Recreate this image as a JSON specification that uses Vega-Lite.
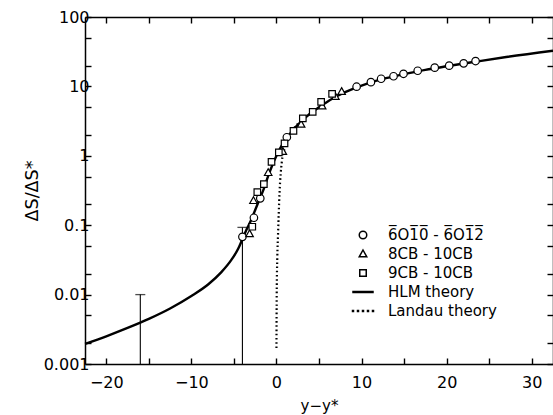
{
  "$schema": "https://vega.github.io/schema/vega-lite/v6.json",
  "width": 468,
  "height": 347,
  "autosize": {"type": "none"},
  "padding": {"left": 85, "top": 17, "right": 0, "bottom": 51},
  "background": "white",
  "config": {
    "view": {"stroke": null},
    "font": "DejaVu Sans",
    "axis": {
      "domainColor": "black", "domainWidth": 1.5,
      "tickColor": "black", "tickWidth": 1.4, "tickSize": -6,
      "labelColor": "black", "titleColor": "black",
      "labelFont": "DejaVu Sans", "titleFont": "DejaVu Sans",
      "labelFontSize": 16, "titleFontSize": 16, "titleFontWeight": "normal",
      "grid": false
    }
  },
  "datasets": {
    "hlm": [
      {"x": -22.5, "y": 0.00195},
      {"x": -20, "y": 0.00251},
      {"x": -17.5, "y": 0.00331},
      {"x": -15, "y": 0.00447},
      {"x": -12.5, "y": 0.00631},
      {"x": -10, "y": 0.00955},
      {"x": -8, "y": 0.0141},
      {"x": -6.5, "y": 0.0209},
      {"x": -5.3, "y": 0.0316},
      {"x": -4.5, "y": 0.0457},
      {"x": -4, "y": 0.0631},
      {"x": -3.5, "y": 0.0871},
      {"x": -3, "y": 0.117},
      {"x": -2.5, "y": 0.166},
      {"x": -2, "y": 0.234},
      {"x": -1.5, "y": 0.331},
      {"x": -1, "y": 0.501},
      {"x": -0.5, "y": 0.724},
      {"x": 0, "y": 1.0},
      {"x": 0.5, "y": 1.32},
      {"x": 1, "y": 1.66},
      {"x": 2, "y": 2.4},
      {"x": 3, "y": 3.2},
      {"x": 4, "y": 4.1},
      {"x": 5, "y": 5.0},
      {"x": 6.5, "y": 6.6},
      {"x": 8, "y": 8.2},
      {"x": 10, "y": 10.3},
      {"x": 12.5, "y": 12.8},
      {"x": 15, "y": 15.0},
      {"x": 17.5, "y": 17.3},
      {"x": 20, "y": 19.5},
      {"x": 23.5, "y": 22.8},
      {"x": 27, "y": 26.5},
      {"x": 32.5, "y": 32.7}
    ],
    "landau": [
      {"x": 0.0, "y": 0.0017},
      {"x": 0.03, "y": 0.01},
      {"x": 0.1, "y": 0.035},
      {"x": 0.18, "y": 0.07},
      {"x": 0.36, "y": 0.29},
      {"x": 0.63, "y": 0.82},
      {"x": 0.9, "y": 1.2},
      {"x": 1.3, "y": 1.7},
      {"x": 2, "y": 2.45},
      {"x": 3, "y": 3.2}
    ],
    "errs": [
      {"x": -16, "lo": 0.001, "hi": 0.01},
      {"x": -4, "lo": 0.001, "hi": 0.093}
    ],
    "pts": [
      {"x": -4.0, "y": 0.068, "s": "6̅O1̅0̅ - 6̅O1̅2̅"},
      {"x": -2.65, "y": 0.128, "s": "6̅O1̅0̅ - 6̅O1̅2̅"},
      {"x": -1.9, "y": 0.244, "s": "6̅O1̅0̅ - 6̅O1̅2̅"},
      {"x": 1.22, "y": 1.85, "s": "6̅O1̅0̅ - 6̅O1̅2̅"},
      {"x": 9.42, "y": 9.9, "s": "6̅O1̅0̅ - 6̅O1̅2̅"},
      {"x": 11.1, "y": 11.5, "s": "6̅O1̅0̅ - 6̅O1̅2̅"},
      {"x": 12.3, "y": 12.9, "s": "6̅O1̅0̅ - 6̅O1̅2̅"},
      {"x": 13.76, "y": 14.0, "s": "6̅O1̅0̅ - 6̅O1̅2̅"},
      {"x": 14.93, "y": 15.2, "s": "6̅O1̅0̅ - 6̅O1̅2̅"},
      {"x": 16.6, "y": 16.8, "s": "6̅O1̅0̅ - 6̅O1̅2̅"},
      {"x": 18.6, "y": 18.6, "s": "6̅O1̅0̅ - 6̅O1̅2̅"},
      {"x": 20.3, "y": 19.9, "s": "6̅O1̅0̅ - 6̅O1̅2̅"},
      {"x": 22.0, "y": 21.5, "s": "6̅O1̅0̅ - 6̅O1̅2̅"},
      {"x": 23.4, "y": 23.2, "s": "6̅O1̅0̅ - 6̅O1̅2̅"},
      {"x": -3.16, "y": 0.075, "s": "8CB  - 10CB"},
      {"x": -2.7, "y": 0.225, "s": "8CB  - 10CB"},
      {"x": -0.97, "y": 0.57, "s": "8CB  - 10CB"},
      {"x": 0.75, "y": 1.15, "s": "8CB  - 10CB"},
      {"x": 2.9, "y": 2.84, "s": "8CB  - 10CB"},
      {"x": 5.37, "y": 5.2, "s": "8CB  - 10CB"},
      {"x": 6.93, "y": 7.1, "s": "8CB  - 10CB"},
      {"x": 7.66, "y": 8.4, "s": "8CB  - 10CB"},
      {"x": -2.84, "y": 0.095, "s": "9CB  - 10CB"},
      {"x": -2.25, "y": 0.30, "s": "9CB  - 10CB"},
      {"x": -1.48, "y": 0.39, "s": "9CB  - 10CB"},
      {"x": -0.58, "y": 0.82, "s": "9CB  - 10CB"},
      {"x": 0.28, "y": 1.12, "s": "9CB  - 10CB"},
      {"x": 0.95, "y": 1.51, "s": "9CB  - 10CB"},
      {"x": 2.0, "y": 2.28, "s": "9CB  - 10CB"},
      {"x": 3.1, "y": 3.47, "s": "9CB  - 10CB"},
      {"x": 4.26, "y": 4.3, "s": "9CB  - 10CB"},
      {"x": 5.25, "y": 6.0, "s": "9CB  - 10CB"},
      {"x": 6.54, "y": 7.8, "s": "9CB  - 10CB"}
    ]
  },
  "resolve": {"axis": {"x": "independent", "y": "independent"}},
  "layer": [
    {
      "data": {"name": "hlm"},
      "mark": {"type": "line", "color": "black", "strokeWidth": 2.4, "interpolate": "monotone"},
      "encoding": {
        "x": {"field": "x", "type": "quantitative",
          "scale": {"domain": [-22.5, 32.5], "nice": false, "zero": false},
          "axis": {"orient": "bottom", "title": "y−y*", "titleFontSize": 15, "values": [-20, -15, -10, -5, 0, 5, 10, 15, 20, 25, 30],
            "labelExpr": "datum.value % 10 === 0 ? datum.label : ''", "labelPadding": 16, "titlePadding": 8}},
        "y": {"field": "y", "type": "quantitative",
          "scale": {"type": "log", "domain": [0.001, 100], "nice": false},
          "axis": {"orient": "left", "title": "ΔS/ΔS*", "format": "~g", "titleFontSize": 17.5,
            "values": [0.001, 0.002, 0.005, 0.01, 0.02, 0.05, 0.1, 0.2, 0.5, 1, 2, 5, 10, 20, 50, 100],
            "labelExpr": "abs(log(datum.value)/LN10 - round(log(datum.value)/LN10)) < 0.001 ? datum.label : ''",
            "labelPadding": 2, "titlePadding": 2}}
      }
    },
    {
      "data": {"name": "landau"},
      "mark": {"type": "line", "color": "black", "strokeWidth": 2.2, "strokeDash": [1.6, 2.6], "interpolate": "monotone"},
      "encoding": {
        "x": {"field": "x", "type": "quantitative",
          "axis": {"orient": "top", "title": null, "labels": false, "values": [-20, -15, -10, -5, 0, 5, 10, 15, 20, 25, 30]}},
        "y": {"field": "y", "type": "quantitative",
          "axis": {"orient": "right", "title": null, "labels": false,
            "values": [0.001, 0.002, 0.005, 0.01, 0.02, 0.05, 0.1, 0.2, 0.5, 1, 2, 5, 10, 20, 50, 100]}}
      }
    },
    {
      "data": {"name": "errs"},
      "mark": {"type": "rule", "color": "black", "strokeWidth": 1.1},
      "encoding": {
        "x": {"field": "x", "type": "quantitative", "axis": null},
        "y": {"field": "lo", "type": "quantitative", "axis": null},
        "y2": {"field": "hi"}
      }
    },
    {
      "data": {"name": "errs"},
      "mark": {"type": "tick", "orient": "horizontal", "color": "black", "size": 10, "thickness": 1.3},
      "encoding": {
        "x": {"field": "x", "type": "quantitative", "axis": null},
        "y": {"field": "hi", "type": "quantitative", "axis": null}
      }
    },
    {
      "data": {"name": "pts"},
      "mark": {"type": "point", "filled": false, "color": "black", "fill": "white", "strokeWidth": 1.2, "size": 100, "opacity": 1},
      "encoding": {
        "x": {"field": "x", "type": "quantitative", "axis": null},
        "y": {"field": "y", "type": "quantitative", "axis": null},
        "shape": {"field": "s", "type": "nominal",
          "scale": {
            "domain": ["6̅O1̅0̅ - 6̅O1̅2̅", "8CB  - 10CB", "9CB  - 10CB", "HLM theory", "Landau theory"],
            "range": [
              "M0.75,0A0.75,0.75,0,1,1,-0.75,0A0.75,0.75,0,1,1,0.75,0Z",
              "M0,-0.8L0.75,0.55L-0.75,0.55Z",
              "M-0.65,-0.65H0.65V0.65H-0.65Z",
              "M-2,-0.1H2V0.1H-2Z",
              "M-2.1,-0.1h0.2v0.2h-0.2zM-1.1,-0.1h0.2v0.2h-0.2zM-0.1,-0.1h0.2v0.2h-0.2zM0.9,-0.1h0.2v0.2h-0.2zM1.9,-0.1h0.2v0.2h-0.2z"]
          },
          "legend": {
            "orient": "none", "legendX": 270.5, "legendY": 210.5, "title": null,
            "labelFontSize": 15, "labelColor": "black",
            "labelOffset": 17.5, "rowPadding": 3
          }
        }
      }
    }
  ]
}
